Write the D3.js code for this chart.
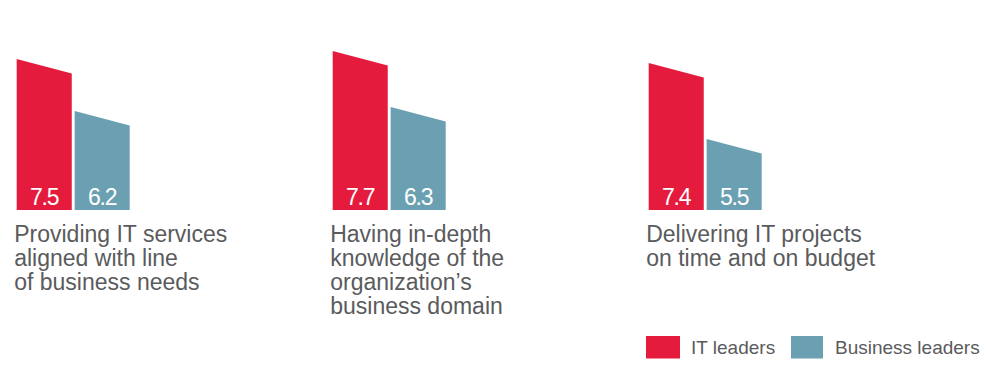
<!DOCTYPE html>
<html>
<head>
<meta charset="utf-8">
<script src="https://cdn.jsdelivr.net/npm/d3@7"></script>
<style>
  html, body { margin: 0; padding: 0; background: #fff; }
  svg { display: block; }
  text { font-family: "Liberation Sans", Arial, Helvetica, sans-serif; }
</style>
</head>
<body>
<svg id="chart" width="1000" height="380"></svg>
<script>
const categories = [
  ["Providing IT services", "aligned with line", "of business needs"],
  ["Having in-depth", "knowledge of the", "organization\u2019s", "business domain"],
  ["Delivering IT projects", "on time and on budget"]
];
const series = ["IT leaders", "Business leaders"];
const itLeaders = [7.5, 7.7, 7.4];
const businessLeaders = [6.2, 6.3, 5.5];
const colors = ["#e51b3d", "#6ba0b2"];

const svg = d3.select("#chart");
const baseY = 210;
const slant = 14.5;

const keys = categories.map((c, i) => "g" + i);
const x0 = d3.scaleBand().domain(keys).range([16.7, 16.7 + 316 * 3]).padding(0);
const x1 = d3.scaleBand().domain(series).range([0, 113]).paddingInner(0.05).paddingOuter(0);
const y = d3.scaleLinear().domain([4, 8]).range([199, 39]);
const color = d3.scaleOrdinal().domain(series).range(colors);

const data = keys.map((k, i) => ({
  key: k,
  lines: categories[i],
  values: [
    { s: series[0], v: itLeaders[i] },
    { s: series[1], v: businessLeaders[i] }
  ]
}));

const groups = svg.selectAll("g.group").data(data).join("g")
  .attr("class", "group")
  .attr("transform", d => `translate(${x0(d.key)},0)`);

groups.selectAll("path.bar").data(d => d.values).join("path")
  .attr("class", "bar")
  .attr("fill", d => color(d.s))
  .attr("d", d => {
    const xl = x1(d.s), xr = xl + x1.bandwidth(), yt = y(d.v);
    return `M${xl},${baseY}L${xl},${yt}L${xr},${yt + slant}L${xr},${baseY}Z`;
  });

groups.selectAll("text.val").data(d => d.values).join("text")
  .attr("class", "val")
  .attr("x", d => x1(d.s) + x1.bandwidth() / 2)
  .attr("y", 205)
  .attr("text-anchor", "middle")
  .attr("fill", "#fff")
  .attr("font-size", 23)
  .attr("letter-spacing", -1.2)
  .text(d => d.v.toFixed(1));

groups.append("text")
  .attr("class", "cat")
  .attr("x", -2.5)
  .attr("y", 242)
  .attr("fill", "#5a5b5d")
  .attr("font-size", 23)
  .selectAll("tspan").data(d => d.lines).join("tspan")
  .attr("x", -2.5)
  .attr("dy", (d, i) => i === 0 ? 0 : 24)
  .text(d => d);

// Legend
const legendX = [646, 791];
const legend = svg.append("g").attr("class", "legend");
const li = legend.selectAll("g").data(series).join("g")
  .attr("transform", (d, i) => `translate(${legendX[i]},336)`);
li.append("rect")
  .attr("width", (d, i) => i === 0 ? 34 : 32)
  .attr("height", 22.5)
  .attr("fill", d => color(d));
li.append("text")
  .attr("x", (d, i) => i === 0 ? 45 : 44)
  .attr("y", 17.5)
  .attr("fill", "#5a5b5d")
  .attr("font-size", 19)
  .text(d => d);
</script>
</body>
</html>
